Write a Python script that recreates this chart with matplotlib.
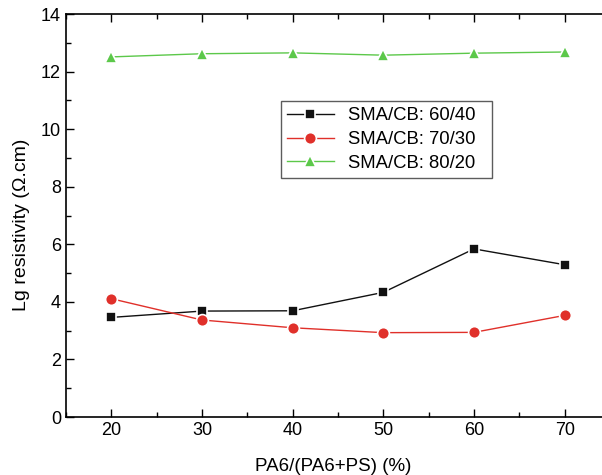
import numpy as np
import matplotlib.pyplot as plt
from matplotlib.ticker import MultipleLocator

plt.rcParams['font.family'] = ['Liberation Sans', 'DejaVu Sans']

pa6_frac = [20, 30, 40, 50, 60, 70]
sma_60_40 = [3.46, 3.68, 3.69, 4.33, 5.84, 5.29]
sma_70_30 = [4.11, 3.37, 3.10, 2.93, 2.94, 3.53]
sma_80_20 = [12.51, 12.62, 12.65, 12.57, 12.64, 12.68]

fig = plt.figure(figsize=(6.02, 4.75), dpi=100)
ax = fig.add_axes([0.1096, 0.1221, 0.9037, 0.8484])

ax.plot(pa6_frac, sma_60_40, '-s', color='#111111', lw=1, ms=7.5,
        mec='white', mew=1.2, label='SMA/CB: 60/40  ')
ax.plot(pa6_frac, sma_70_30, '-o', color='#e0302a', lw=1, ms=8.5,
        mec='white', mew=1.2, label='SMA/CB: 70/30  ')
ax.plot(pa6_frac, sma_80_20, '-^', color='#5cc84a', lw=1, ms=9,
        mec='white', mew=1.2, label='SMA/CB: 80/20  ')

ax.set_xlim(15, 75)
ax.set_ylim(0, 14)
ax.xaxis.set_major_locator(MultipleLocator(10))
ax.xaxis.set_minor_locator(MultipleLocator(5))
ax.yaxis.set_major_locator(MultipleLocator(2))
ax.yaxis.set_minor_locator(MultipleLocator(1))
ax.set_xticks([20, 30, 40, 50, 60, 70])

ax.spines['right'].set_visible(False)
for s in ['left', 'bottom', 'top']:
    ax.spines[s].set_linewidth(1.2)
ax.tick_params(which='both', direction='in', top=True, right=False,
               labelsize=13, width=1)
ax.tick_params(which='major', length=6)
ax.tick_params(which='minor', length=3.5)

ax.set_xlabel('PA6/(PA6+PS) (%)', fontsize=13.5, labelpad=14, x=0.492)
ax.set_ylabel('Lg resistivity (Ω.cm)', fontsize=14, labelpad=8, y=0.476)

leg = ax.legend(loc='upper left', bbox_to_anchor=(0.378, 0.807),
                fontsize=13.3, frameon=True, fancybox=False, edgecolor='#333333',
                handlelength=2.5, borderpad=0.35, labelspacing=0.36)
leg.get_frame().set_linewidth(1)

fig.savefig('out.png', dpi=100)
